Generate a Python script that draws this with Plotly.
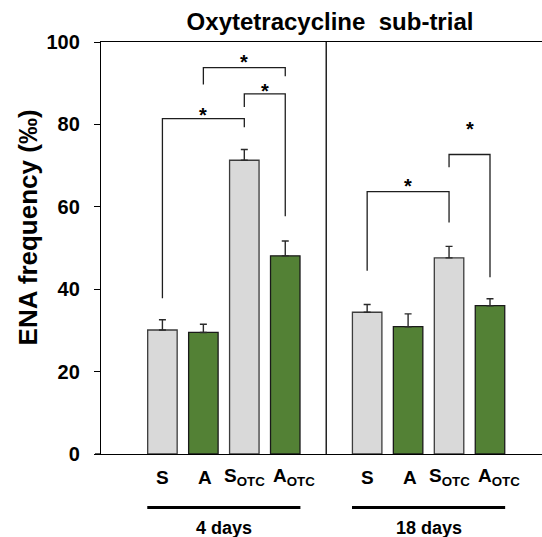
import plotly.graph_objects as go

# ENA frequency (per mille) by treatment, oxytetracycline sub-trial
groups = ["4 days", "18 days"]
treatments = ["S", "A", "S<sub>OTC</sub>", "A<sub>OTC</sub>"]
means_4d = [30.1, 29.5, 71.3, 48.1]
se_4d = [2.5, 2.0, 2.6, 3.6]
means_18d = [34.4, 30.9, 47.6, 36.0]
se_18d = [1.9, 3.1, 2.8, 1.7]

# significance brackets: (left bar, right bar) as (group, treatment) indices
bracket_pairs = [((0, 0), (0, 2)), ((0, 2), (0, 3)), ((0, 1), (0, 3)),
                 ((1, 0), (1, 2)), ((1, 2), (1, 3))]
bracket_top = [81.4, 87.4, 93.8, 63.7, 72.7]
bracket_left_end = [37.8, 84.2, 89.7, 44.5, 69.6]
bracket_right_end = [79.3, 57.7, 91.7, 56.2, 42.9]
star_y = [83.6, 89.4, 96.4, 66.2, 80.1]

FONT = "Liberation Sans, Arial, Helvetica, sans-serif"
GRAY = "#d9d9d9"
GREEN = "#538135"
GROUP_STEP = 5


def xpos(g, t):
    return g * GROUP_STEP + t


means = [means_4d, means_18d]
ses = [se_4d, se_18d]
xs, ys, errs, fills, edges = [], [], [], [], []
for g in range(len(groups)):
    for t in range(len(treatments)):
        xs.append(xpos(g, t))
        ys.append(means[g][t])
        errs.append(ses[g][t])
        fills.append(GRAY if t % 2 == 0 else GREEN)
        edges.append("#3c3c3c" if t % 2 == 0 else "#1a1a1a")

fig = go.Figure()
fig.add_trace(go.Bar(
    x=xs, y=ys, width=0.72, textposition="none",
    marker=dict(color=fills, line=dict(color=edges, width=1.3)),
    error_y=dict(type="data", symmetric=False, array=errs,
                 arrayminus=[0] * len(errs), color="#2a2a2a",
                 thickness=1.4, width=3.5),
    hoverinfo="skip",
))

# bracket lines
bx, by = [], []
for (l, r), top, le, re_ in zip(bracket_pairs, bracket_top,
                                 bracket_left_end, bracket_right_end):
    x0, x1 = xpos(*l), xpos(*r)
    bx += [x0, x0, x1, x1, None]
    by += [le, top, top, re_, None]
fig.add_trace(go.Scatter(x=bx, y=by, mode="lines",
                         line=dict(color="#1e1e1e", width=1.3),
                         hoverinfo="skip"))

annotations = []
for (l, r), sy in zip(bracket_pairs, star_y):
    annotations.append(dict(
        x=(xpos(*l) + xpos(*r)) / 2, y=sy, xref="x", yref="y",
        text="*", showarrow=False, yanchor="middle", yshift=-5,
        font=dict(family=FONT, size=20, color="black", weight="bold")))

# category labels under the axis
label_shift = [0, 2, 0, 9]
for g in range(len(groups)):
    for t, name in enumerate(treatments):
        annotations.append(dict(
            x=xpos(g, t), y=-0.056, xref="x", yref="paper", text=name,
            showarrow=False, yanchor="middle", xshift=label_shift[t],
            font=dict(family=FONT, size=19, color="black", weight="bold")))
    # group underline and name
    x_first, x_last = xpos(g, 0), xpos(g, len(treatments) - 1)
    fig.add_shape(type="line", x0=x_first - 0.37, x1=x_last + 0.37,
                  y0=-0.1296, y1=-0.1296, xref="x", yref="paper",
                  line=dict(color="black", width=3))
    annotations.append(dict(
        x=(x_first + x_last) / 2, y=-0.18, xref="x", yref="paper",
        text=groups[g], showarrow=False, yanchor="middle",
        font=dict(family=FONT, size=18, color="black", weight="bold")))

# divider between the two sampling times
fig.add_shape(type="line", x0=GROUP_STEP - 1, x1=GROUP_STEP - 1, y0=0, y1=100,
              xref="x", yref="y", line=dict(color="black", width=1.3))

# baseline continues under the zero tick
fig.add_shape(type="line", x0=-6 / 441, x1=0, y0=0, y1=0,
              xref="paper", yref="y", line=dict(color="black", width=1.3))

# y-axis title
annotations.append(dict(
    x=-0.1655, y=0.55, xref="paper", yref="paper",
    text="ENA frequency (‰)", textangle=-90, showarrow=False,
    xanchor="center", yanchor="middle",
    font=dict(family=FONT, size=26, color="black", weight="bold")))

fig.update_layout(
    width=542, height=537,
    margin=dict(l=101, r=0, t=42, b=83),
    paper_bgcolor="white", plot_bgcolor="white",
    showlegend=False,
    title=dict(text="Oxytetracycline\u00a0 sub-trial", x=330 / 542,
               xref="container", xanchor="center", y=1 - 22 / 537,
               yref="container", yanchor="middle",
               font=dict(family=FONT, size=24, color="black", weight="bold")),
    xaxis=dict(range=[-1.5, 9.27], showticklabels=False, ticks="",
               showline=True, linecolor="black", linewidth=1.3, mirror=True,
               showgrid=False, zeroline=False),
    yaxis=dict(range=[0, 100], tickvals=[0, 20, 40, 60, 80, 100],
               ticks="outside", ticklen=6, tickwidth=1.3, tickcolor="black",
               showline=True, linecolor="black", linewidth=1.3,
               showgrid=False, zeroline=False, ticklabelstandoff=10,
               tickfont=dict(family=FONT, size=20, color="black",
                             weight="bold")),
    annotations=annotations,
)

fig.write_html("out.html")
